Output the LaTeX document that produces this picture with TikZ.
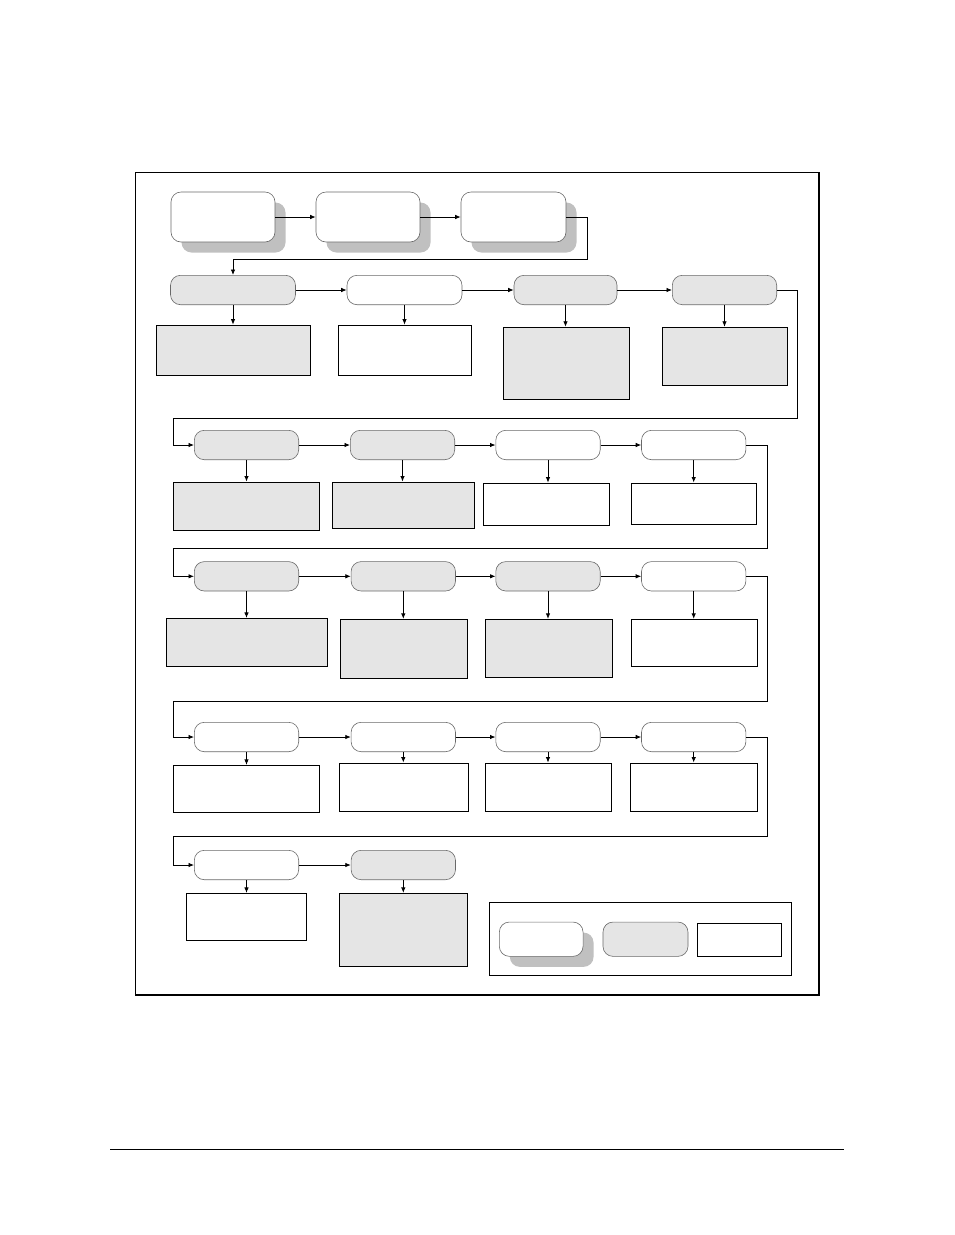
\documentclass[tikz,border=0pt]{standalone}
\usetikzlibrary{positioning, arrows.meta, shadows}
\definecolor{panelgray}{RGB}{229,229,229}
\definecolor{shadowgray}{RGB}{192,192,192}
\definecolor{edgegray}{RGB}{105,105,105}
\tikzset{
  mode/.style={draw=edgegray, line width=0.6pt, fill=white, rounded corners=10pt,
    minimum height=29.4pt, minimum width=104.4pt, inner sep=0pt},
  modegray/.style={mode, fill=panelgray},
  start/.style={mode, minimum height=50pt,
    drop shadow={shadow xshift=10.5pt, shadow yshift=-10.5pt, fill=shadowgray, opacity=1}},
  info/.style={draw, line width=0.9pt, fill=white, inner sep=0pt},
  infogray/.style={info, fill=panelgray},
  flow/.style={line width=0.8pt, -{Latex[length=5.5pt,width=4.5pt]}},
}
\begin{document}
\begin{tikzpicture}[x=1pt, y=-1pt]
\useasboundingbox (0,0) rectangle (954,1235);

% outer frame and page rule
\draw[line width=1.4pt] (135.7,172.5) rectangle (819,995);
\draw[line width=1pt] (110,1149) -- (844,1149);

% start row
\node (B1) [start, minimum width=104pt] at (223,217) {};
\node (B2) [start, minimum width=104pt] at (368,217) {};
\node (B3) [start, minimum width=105pt] at (513.5,217) {};

% row 1
\node (R1a) [modegray, minimum width=125pt] at (233,290) {};
\node (R1b) [mode, minimum width=115pt] at (404.5,290) {};
\node (R1c) [modegray, minimum width=103pt] at (565.5,290) {};
\node (R1d) [modegray] at (724.5,290) {};
\node (S1a) [infogray, minimum width=154pt, minimum height=50.5pt] at (233.5,350.3) {};
\node (S1b) [info, minimum width=133pt, minimum height=50.5pt] at (405,350.3) {};
\node (S1c) [infogray, minimum width=126pt, minimum height=72pt] at (566,363.2) {};
\node (S1d) [infogray, minimum width=125pt, minimum height=58.5pt] at (725,356.5) {};

% row 2
\node (R2a) [modegray] at (246.5,445) {};
\node (R2b) [modegray] at (402.5,445) {};
\node (R2c) [mode] at (548,445) {};
\node (R2d) [mode] at (693.7,445) {};
\node (S2a) [infogray, minimum width=146.7pt, minimum height=48pt] at (246.3,506) {};
\node (S2b) [infogray, minimum width=142pt, minimum height=46pt] at (403.3,505) {};
\node (S2c) [info, minimum width=126pt, minimum height=42.3pt] at (546.3,504.2) {};
\node (S2d) [info, minimum width=125pt, minimum height=41.7pt] at (693.8,503.8) {};

% row 3
\node (R3a) [modegray] at (246.5,576.3) {};
\node (R3b) [modegray] at (403.3,576.3) {};
\node (R3c) [modegray] at (548,576.3) {};
\node (R3d) [mode] at (693.7,576.3) {};
\node (S3a) [infogray, minimum width=161pt, minimum height=47.7pt] at (246.8,642.2) {};
\node (S3b) [infogray, minimum width=127.7pt, minimum height=59pt] at (403.8,648.8) {};
\node (S3c) [infogray, minimum width=127.7pt, minimum height=58pt] at (548.8,648.3) {};
\node (S3d) [info, minimum width=126pt, minimum height=47pt] at (694.3,642.8) {};

% row 4
\node (R4a) [mode] at (246.5,737) {};
\node (R4b) [mode] at (403.3,737) {};
\node (R4c) [mode] at (548,737) {};
\node (R4d) [mode] at (693.7,737) {};
\node (S4a) [info, minimum width=146.7pt, minimum height=47pt] at (246.3,788.8) {};
\node (S4b) [info, minimum width=129pt, minimum height=48pt] at (403.8,787) {};
\node (S4c) [info, minimum width=126.4pt, minimum height=48pt] at (548.5,787) {};
\node (S4d) [info, minimum width=127.4pt, minimum height=48pt] at (694,787) {};

% row 5
\node (R5a) [mode] at (246.5,865) {};
\node (R5b) [modegray] at (403.3,865) {};
\node (S5a) [info, minimum width=120.3pt, minimum height=46.7pt] at (246.2,916.7) {};
\node (S5b) [infogray, minimum width=128pt, minimum height=73pt] at (403.3,929.8) {};

% key
\node (key) [info, minimum width=302.7pt, minimum height=73pt] at (640.3,938.8) {};
\node (K1) [start, minimum width=83.7pt, minimum height=34.3pt] at (541.2,939.2) {};
\node (K2) [modegray, minimum width=85pt, minimum height=34.3pt] at (645.5,939.2) {};
\node (K3) [info, minimum width=84.7pt, minimum height=33pt] at (739.3,939.5) {};

% connectors
\foreach \a/\b in {B1/B2, B2/B3, R1a/R1b, R1b/R1c, R1c/R1d, R2a/R2b, R2b/R2c, R2c/R2d,
    R3a/R3b, R3b/R3c, R3c/R3d, R4a/R4b, R4b/R4c, R4c/R4d, R5a/R5b}
  \draw[flow] (\a.east) -- (\b.west);

\foreach \m/\i in {R1a/S1a, R1b/S1b, R1c/S1c, R1d/S1d, R2a/S2a, R2b/S2b, R2c/S2c, R2d/S2d,
    R3a/S3a, R3b/S3b, R3c/S3c, R3d/S3d, R4a/S4a, R4b/S4b, R4c/S4c, R4d/S4d, R5a/S5a, R5b/S5b}
  \draw[flow] (\m.south) -- (\m.south |- \i.north);

\coordinate (T0) at (587,259);
\coordinate (T1) at (797.5,418);
\coordinate (T1l) at (173.5,418);
\coordinate (T2) at (767,548);
\coordinate (T2l) at (173.5,548);
\coordinate (T3) at (767,701);
\coordinate (T3l) at (173.5,701);
\coordinate (T4) at (767,836);
\coordinate (T4l) at (173.5,836);

\draw[flow] (B3.east) -| (T0) -| (R1a.north);
\draw[flow] (R1d.east) -| (T1) -- (T1l) |- (R2a.west);
\draw[flow] (R2d.east) -| (T2) -- (T2l) |- (R3a.west);
\draw[flow] (R3d.east) -| (T3) -- (T3l) |- (R4a.west);
\draw[flow] (R4d.east) -| (T4) -- (T4l) |- (R5a.west);

\end{tikzpicture}
\end{document}
